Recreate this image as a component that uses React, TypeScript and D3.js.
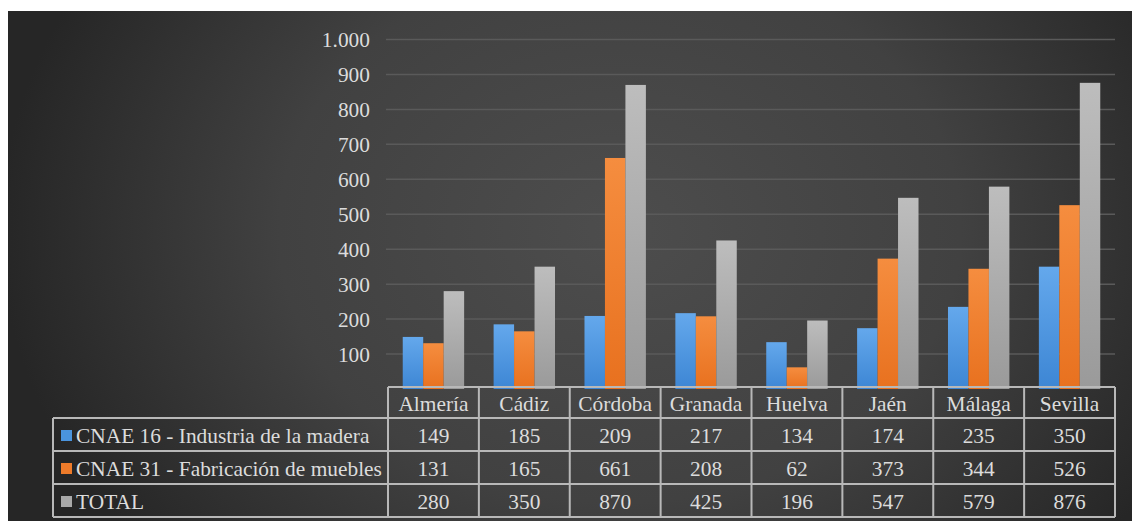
import React from 'react';
import * as d3 from 'd3';

const categories = ['Almería', 'Cádiz', 'Córdoba', 'Granada', 'Huelva', 'Jaén', 'Málaga', 'Sevilla'];
const seriesNames = ['CNAE 16 - Industria de la madera', 'CNAE 31 - Fabricación de muebles', 'TOTAL'];
const madera = [149, 185, 209, 217, 134, 174, 235, 350];
const muebles = [131, 165, 661, 208, 62, 373, 344, 526];
const total = [280, 350, 870, 425, 196, 547, 579, 876];
const yTicks = [100, 200, 300, 400, 500, 600, 700, 800, 900, 1000];

const seriesValues = [madera, muebles, total];
const colors = [
  { top: '#64a8ec', bottom: '#3d86d4', key: '#4a94de' },
  { top: '#f58d3f', bottom: '#e8711f', key: '#ee7b2a' },
  { top: '#bdbdbd', bottom: '#9a9a9a', key: '#a9a9a9' },
];

const W = 1132;
const H = 521;
const textStyle: React.CSSProperties = {
  fontFamily: "'Liberation Serif'",
  fontSize: '21.4px',
};
const textColor = '#dcdcdc';
const lineColor = '#b8b8b8';

const fmt = d3.formatLocale({ decimal: ',', thousands: '.', grouping: [3], currency: ['', '€'] }).format(',d');

export default function App() {
  const plotLeft = 388;
  const plotRight = 1115;
  const tableLeft = 53;
  const rowEdges = [387, 418, 451, 484, 517];

  const y = d3.scaleLinear().domain([0, 1000]).range([389, 39.5]);
  const x0 = d3.scaleBand<string>().domain(categories).range([plotLeft, plotRight]).padding(0);
  const x1 = d3
    .scaleBand<number>()
    .domain([0, 1, 2])
    .range([0, x0.bandwidth()])
    .paddingInner(0)
    .paddingOuter(0.72);

  return (
    <div style={{ position: 'fixed', left: 0, top: 0 }}>
      <svg width={W} height={H} style={{ display: 'block' }}>
        <defs>
          <radialGradient id="bg" cx="620" cy="230" r="620" gradientUnits="userSpaceOnUse" gradientTransform="translate(620,230) scale(1,0.8) translate(-620,-230)">
            <stop offset="0" stopColor="#4d4d4d" />
            <stop offset="0.55" stopColor="#414141" />
            <stop offset="1" stopColor="#262626" />
          </radialGradient>
          {colors.map((c, i) => (
            <linearGradient key={i} id={`bar${i}`} x1="0" y1="0" x2="0" y2="1">
              <stop offset="0" stopColor={c.top} />
              <stop offset="1" stopColor={c.bottom} />
            </linearGradient>
          ))}
        </defs>
        <rect x={0} y={0} width={W} height={H} fill="#ffffff" />
        <rect x={8} y={11} width={W - 8} height={H - 11} fill="url(#bg)" />

        {/* gridlines */}
        {yTicks.map((t) => (
          <line key={t} x1={386} x2={plotRight} y1={y(t)} y2={y(t)} stroke="#5a5a5a" strokeWidth={1.5} />
        ))}

        {/* y tick labels */}
        {yTicks.map((t) => (
          <text key={t} x={370} y={y(t)} dy="0.35em" textAnchor="end" style={textStyle} fill={textColor}>
            {fmt(t)}
          </text>
        ))}

        {/* bars */}
        {categories.map((cat, ci) => (
          <g key={cat} transform={`translate(${x0(cat)},0)`}>
            {seriesValues.map((vals, si) => (
              <rect
                key={si}
                x={x1(si)}
                y={y(vals[ci])}
                width={x1.bandwidth()}
                height={y(0) - y(vals[ci])}
                fill={`url(#bar${si})`}
              />
            ))}
          </g>
        ))}

        {/* data table */}
        <g fill="none" stroke={lineColor} strokeWidth={2}>
          <line x1={plotLeft} x2={plotRight} y1={rowEdges[0]} y2={rowEdges[0]} />
          {rowEdges.slice(1).map((ry) => (
            <line key={ry} x1={tableLeft} x2={plotRight} y1={ry} y2={ry} />
          ))}
          <line x1={tableLeft} x2={tableLeft} y1={rowEdges[1]} y2={rowEdges[4]} />
          {categories.map((cat) => (
            <line key={cat} x1={x0(cat)} x2={x0(cat)} y1={rowEdges[0]} y2={rowEdges[4]} />
          ))}
          <line x1={plotRight} x2={plotRight} y1={rowEdges[0]} y2={rowEdges[4]} />
        </g>

        {categories.map((cat) => (
          <text
            key={cat}
            x={(x0(cat) as number) + x0.bandwidth() / 2}
            y={(rowEdges[0] + rowEdges[1]) / 2 + 1}
            dy="0.35em"
            textAnchor="middle"
            style={textStyle}
            fill={textColor}
          >
            {cat}
          </text>
        ))}

        {seriesValues.map((vals, si) => {
          const cy = (rowEdges[si + 1] + rowEdges[si + 2]) / 2 + 1;
          return (
            <g key={si}>
              <rect x={61} y={cy - 5.5} width={11} height={11} fill={colors[si].key} />
              <text x={76} y={cy} dy="0.35em" style={textStyle} fill={textColor}>
                {seriesNames[si]}
              </text>
              {vals.map((v, ci) => (
                <text
                  key={ci}
                  x={(x0(categories[ci]) as number) + x0.bandwidth() / 2}
                  y={cy}
                  dy="0.35em"
                  textAnchor="middle"
                  style={textStyle}
                  fill={textColor}
                >
                  {v}
                </text>
              ))}
            </g>
          );
        })}
      </svg>
    </div>
  );
}
